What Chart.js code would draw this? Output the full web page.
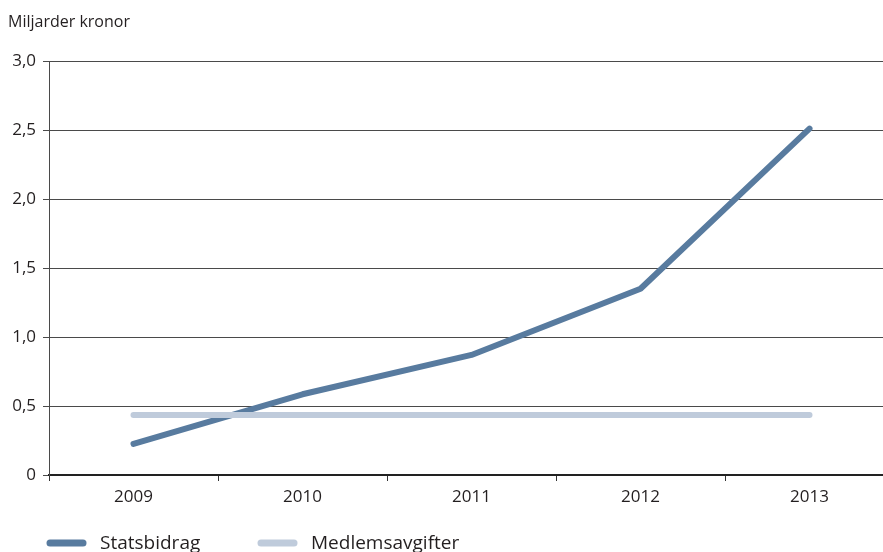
<!DOCTYPE html>
<html>
<head>
<meta charset="utf-8">
<script src="https://cdn.jsdelivr.net/npm/chart.js@4"></script>
<style>
  html, body { margin: 0; padding: 0; background: #fff; overflow: hidden; }
  #wrap { position: relative; width: 900px; height: 560px; }
</style>
</head>
<body>
<div id="wrap"><canvas id="chart" width="900" height="560"></canvas></div>
<script>
// Data
const years = ['2009', '2010', '2011', '2012', '2013'];
const statsbidrag = [0.225, 0.585, 0.87, 1.35, 2.51];
const medlemsavgifter = [0.435, 0.435, 0.435, 0.435, 0.435];
const seriesNames = ['Statsbidrag', 'Medlemsavgifter'];
const seriesColors = ['#587b9f', '#bfcbdb'];
const yTitle = 'Miljarder kronor';

const FONT = '"Open Sans", "Noto Sans", sans-serif';
const TEXT = '#231f20';

// Draws the unit label at top left and the legend under the axis
const extras = {
    id: 'extras',
    afterDraw(chart) {
        const ctx = chart.ctx;
        ctx.save();
        ctx.fillStyle = TEXT;
        ctx.font = '16px ' + FONT;
        ctx.textBaseline = 'middle';
        ctx.textAlign = 'left';
        ctx.fillText(yTitle, 8, 22);

        const legendY = 543;
        const items = [{ x: 50 }, { x: 261 }];
        items.forEach((it, i) => {
            ctx.strokeStyle = seriesColors[i];
            ctx.lineWidth = 7;
            ctx.lineCap = 'round';
            ctx.beginPath();
            ctx.moveTo(it.x, legendY);
            ctx.lineTo(it.x + 33, legendY);
            ctx.stroke();
            ctx.fillStyle = TEXT;
            ctx.font = '19px ' + FONT;
            ctx.fillText(seriesNames[i], it.x + 50, legendY + 1);
        });
        ctx.restore();
    }
};

new Chart(document.getElementById('chart'), {
    type: 'line',
    data: {
        labels: years,
        datasets: [
            {
                label: seriesNames[1],
                data: medlemsavgifter,
                borderColor: seriesColors[1],
                borderWidth: 6,
                borderCapStyle: 'round',
                pointRadius: 0,
                tension: 0
            },
            {
                label: seriesNames[0],
                data: statsbidrag,
                borderColor: seriesColors[0],
                borderWidth: 6,
                borderCapStyle: 'round',
                borderJoinStyle: 'round',
                pointRadius: 0,
                tension: 0
            }
        ]
    },
    options: {
        responsive: false,
        animation: false,
        devicePixelRatio: 1,
        layout: { padding: { top: 61, left: 0, right: 6, bottom: 45 } },
        plugins: {
            legend: { display: false },
            tooltip: { enabled: false }
        },
        scales: {
            x: {
                offset: true,
                grid: {
                    offset: true,
                    drawOnChartArea: false,
                    drawTicks: true,
                    tickLength: 6,
                    color: '#333'
                },
                border: { color: '#222', width: 2 },
                ticks: {
                    color: TEXT,
                    font: { family: FONT, size: 17 },
                    padding: 6,
                    maxRotation: 0
                },
                afterFit(scale) { scale.height = 40; }
            },
            y: {
                min: 0,
                max: 3,
                grid: {
                    color: '#4a4a4a',
                    lineWidth: 1,
                    drawTicks: true,
                    tickLength: 6
                },
                border: { color: '#4a4a4a', width: 1 },
                ticks: {
                    stepSize: 0.5,
                    color: TEXT,
                    font: { family: FONT, size: 17 },
                    padding: 7,
                    callback: v => v === 0 ? '0' : v.toFixed(1).replace('.', ',')
                },
                afterFit(scale) { scale.width = 49; }
            }
        }
    },
    plugins: [extras]
});
</script>
</body>
</html>
